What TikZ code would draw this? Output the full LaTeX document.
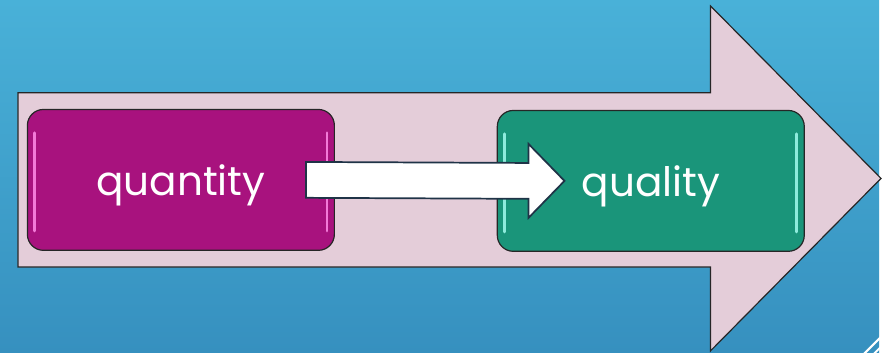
\documentclass[tikz,border=0pt]{standalone}
\usepackage{fontspec}
\setmainfont{Poppins}
\usetikzlibrary{calc}
\definecolor{bgtop}{HTML}{49B1D8}
\definecolor{bgbot}{HTML}{3690BF}
\definecolor{flowpink}{HTML}{E4CDD9}
\definecolor{edge}{HTML}{1F3347}
\definecolor{magbox}{HTML}{A8127E}
\definecolor{maglight}{HTML}{F27AD8}
\definecolor{tealbox}{HTML}{1A957A}
\definecolor{teallight}{HTML}{8EEBDC}

\begin{document}
\begin{tikzpicture}[
    x=0.75pt, y=-0.75pt,
    box/.style={rectangle, draw=black!85, line width=0.9pt, rounded corners=12pt,
        minimum width=231pt, minimum height=106pt, inner sep=0pt,
        text height=24pt, text depth=0pt,
        text=white, font=\fontsize{30.5}{32}\selectfont},
    shine/.style={line width=2.2pt, line cap=round},
    fatarrow/.style={fill=white, draw=edge, line width=1.3pt, line join=miter}
]

% Background
\fill[top color=bgtop, bottom color=bgbot] (0,0) rectangle (882,354);
\draw[white, line width=1.5pt] (866,356) -- (884,338);
\draw[white, line width=1.5pt] (876,356) -- (884,348);

% Big flow arrow
\draw[fill=flowpink, draw=black!85, line width=0.9pt]
    (18,93) -- (713,93) -- (713,6) -- (884,179) -- (713,352) -- (713,268) -- (18,268) -- cycle;

% Boxes
\node[box, fill=magbox] (quantity) at (181.5,180.5) {quantity};
\node[box, fill=tealbox] (quality) at (653,181.5) {quality};

% Highlights
\draw[shine, maglight] ($(quantity.north west)+(8,24)$) -- ($(quantity.south west)+(8,-20)$);
\draw[shine, maglight] ($(quantity.north east)+(-8,24)$) -- ($(quantity.south east)+(-8,-20)$);
\draw[shine, teallight] ($(quality.north west)+(8,24)$) -- ($(quality.south west)+(8,-20)$);
\draw[shine, teallight] ($(quality.north east)+(-8,24)$) -- ($(quality.south east)+(-8,-20)$);

% Connector
\coordinate (start) at ($(quantity.east)+(-29,0)$);
\coordinate (tip) at ($(quality.west)+(68,0)$);
\draw[fatarrow]
    ($(start)+(0,-18)$) -- ($(tip)+(-36,-18)$) -- ($(tip)+(-36,-37)$) -- (tip)
    -- ($(tip)+(-36,37)$) -- ($(tip)+(-36,18)$) -- ($(start)+(0,18)$) -- cycle;

\end{tikzpicture}
\end{document}
